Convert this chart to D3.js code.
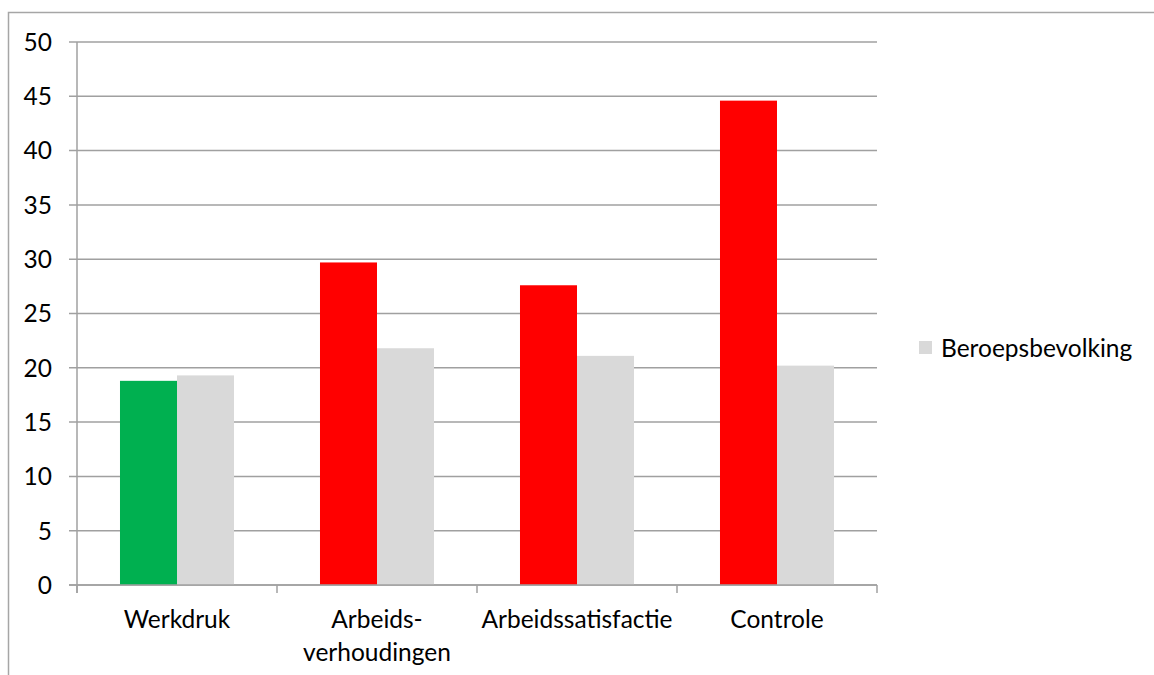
<!DOCTYPE html>
<html>
<head>
<meta charset="utf-8">
<script src="https://cdn.jsdelivr.net/npm/d3@7"></script>
<style>
  body { margin: 0; background: #fff; }
  text { font-family: Lato, "Open Sans", sans-serif; fill: #000; }
</style>
</head>
<body>
<div id="chart"></div>
<script>
// categories and values
var categories = ["Werkdruk", "Arbeids-\nverhoudingen", "Arbeidssatisfactie", "Controle"];
var groupValues = [18.8, 29.7, 27.6, 44.6];
var groupColors = ["#00b050", "#ff0000", "#ff0000", "#ff0000"];
var beroepsbevolking = [19.3, 21.8, 21.1, 20.2];
var yTicks = [0, 5, 10, 15, 20, 25, 30, 35, 40, 45, 50];

var svgWidth = 1154;
var svgHeight = 675;
var fontSize = "24.5px";
var plot = { left: 77, right: 877, top: 42, bottom: 585 };

var svg = d3.select("#chart")
    .append("svg")
    .attr("width", svgWidth)
    .attr("height", svgHeight);

// outer frame (top and left edges visible)
svg.append("path")
    .attr("d", "M8.5,675 L8.5,12.5 L1154,12.5")
    .attr("fill", "none")
    .attr("stroke", "#a6a6a6")
    .attr("stroke-width", 1.5);

var x = d3.scaleBand()
    .domain(categories)
    .range([plot.left, plot.right])
    .paddingInner(0)
    .paddingOuter(0);

var y = d3.scaleLinear()
    .domain([0, 50])
    .range([plot.bottom, plot.top]);

// gridlines
svg.append("g")
    .selectAll("line")
    .data(yTicks)
    .enter()
    .append("line")
    .attr("x1", plot.left - 8)
    .attr("x2", plot.right)
    .attr("y1", function (d) { return y(d); })
    .attr("y2", function (d) { return y(d); })
    .attr("stroke", "#a0a0a0")
    .attr("stroke-width", 1.5);

// y axis line
svg.append("line")
    .attr("x1", plot.left).attr("x2", plot.left)
    .attr("y1", plot.top).attr("y2", plot.bottom + 8)
    .attr("stroke", "#a0a0a0")
    .attr("stroke-width", 1.5);

// y tick labels
svg.append("g")
    .selectAll("text")
    .data(yTicks)
    .enter()
    .append("text")
    .attr("x", plot.left - 25)
    .attr("y", function (d) { return y(d); })
    .attr("dy", "0.36em")
    .attr("text-anchor", "end")
    .attr("font-size", fontSize)
    .text(function (d) { return d; });

// category ticks
var bounds = categories.map(function (c) { return x(c); }).concat([plot.right]);
svg.append("g")
    .selectAll("line")
    .data(bounds)
    .enter()
    .append("line")
    .attr("x1", function (d) { return d; })
    .attr("x2", function (d) { return d; })
    .attr("y1", plot.bottom)
    .attr("y2", plot.bottom + 8)
    .attr("stroke", "#a0a0a0")
    .attr("stroke-width", 1.5);

// bars inside each category
var inner = d3.scaleBand()
    .domain(["group", "beroeps"])
    .range([0, x.bandwidth()])
    .paddingInner(0)
    .paddingOuter(0.754);

svg.append("g")
    .selectAll("rect")
    .data(groupValues)
    .enter()
    .append("rect")
    .attr("x", function (d, i) { return x(categories[i]) + inner("group"); })
    .attr("y", function (d) { return y(d); })
    .attr("width", inner.bandwidth())
    .attr("height", function (d) { return y(0) - y(d); })
    .attr("fill", function (d, i) { return groupColors[i]; });

svg.append("g")
    .selectAll("rect")
    .data(beroepsbevolking)
    .enter()
    .append("rect")
    .attr("x", function (d, i) { return x(categories[i]) + inner("beroeps"); })
    .attr("y", function (d) { return y(d); })
    .attr("width", inner.bandwidth())
    .attr("height", function (d) { return y(0) - y(d); })
    .attr("fill", "#d9d9d9");

// redraw baseline over bars
svg.append("line")
    .attr("x1", plot.left - 8).attr("x2", plot.right)
    .attr("y1", y(0)).attr("y2", y(0))
    .attr("stroke", "#a0a0a0")
    .attr("stroke-width", 1.5);

// category labels
var labels = svg.append("g")
    .selectAll("text")
    .data(categories)
    .enter()
    .append("text")
    .attr("text-anchor", "middle")
    .attr("font-size", fontSize)
    .attr("transform", function (d) {
        return "translate(" + (x(d) + x.bandwidth() / 2) + "," + (plot.bottom + 43) + ")";
    });

labels.selectAll("tspan")
    .data(function (d) { return d.split("\n"); })
    .enter()
    .append("tspan")
    .attr("x", 0)
    .attr("dy", function (d, i) { return i === 0 ? 0 : 33; })
    .text(function (d) { return d; });

// legend
svg.append("rect")
    .attr("x", 919)
    .attr("y", 341)
    .attr("width", 13)
    .attr("height", 13)
    .attr("fill", "#d9d9d9");

svg.append("text")
    .attr("x", 941)
    .attr("y", 348)
    .attr("dy", "0.36em")
    .attr("font-size", fontSize)
    .text("Beroepsbevolking");
</script>
</body>
</html>
